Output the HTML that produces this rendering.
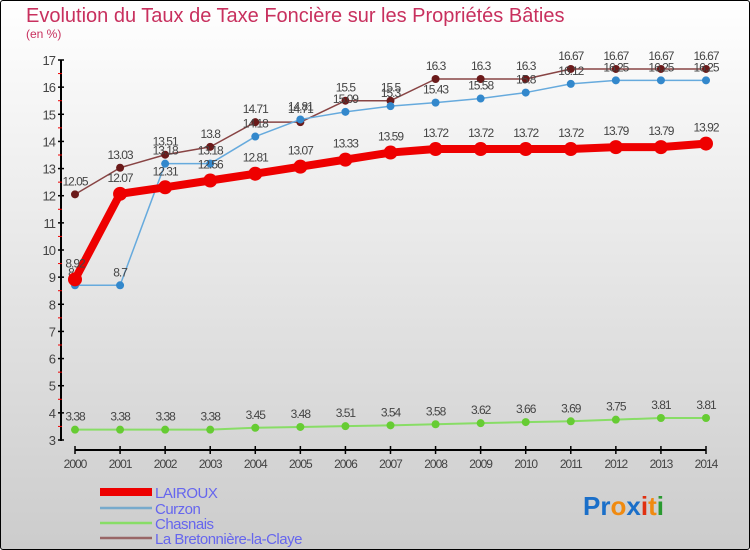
<!DOCTYPE html>
<html><head><meta charset="utf-8"><style>
html,body{margin:0;padding:0}
body{width:750px;height:550px;overflow:hidden;font-family:"Liberation Sans",sans-serif}
#wrap{position:absolute;left:0;top:0;width:748px;height:548px;border:1px solid #000;border-radius:3px;background:linear-gradient(#ffffff,#cccccc)}
svg{position:absolute;left:0;top:0}
</style></head><body>
<div id="wrap"></div>
<svg id="chart" width="750" height="550">
<text x="26" y="22" font-size="20" fill="#c8305e">Evolution du Taux de Taxe Foncière sur les Propriétés Bâties</text>
<text x="26" y="38" font-size="12" fill="#c8305e">(en %)</text>
<g id="axes"></g><g id="series"></g><g id="legend"></g>
<text x="583" y="515" font-size="26" font-weight="bold"><tspan fill="#1a6fc9">Pr</tspan><tspan fill="#f08a10">o</tspan><tspan fill="#1a6fc9">x</tspan><tspan fill="#e03010">i</tspan><tspan fill="#f08a10">t</tspan><tspan fill="#2a9a30">i</tspan></text>
</svg>
<script>
const years=[2000,2001,2002,2003,2004,2005,2006,2007,2008,2009,2010,2011,2012,2013,2014];
const yTicks=[3,4,5,6,7,8,9,10,11,12,13,14,15,16,17];
const lairoux=[8.92,12.07,12.31,12.56,12.81,13.07,13.33,13.59,13.72,13.72,13.72,13.72,13.79,13.79,13.92];
const curzon=[8.7,8.7,13.18,13.18,14.18,14.81,15.09,15.3,15.43,15.58,15.8,16.12,16.25,16.25,16.25];
const chasnais=[3.38,3.38,3.38,3.38,3.45,3.48,3.51,3.54,3.58,3.62,3.66,3.69,3.75,3.81,3.81];
const bretonniere=[12.05,13.03,13.51,13.8,14.71,14.71,15.5,15.5,16.3,16.3,16.3,16.67,16.67,16.67,16.67];
const seriesNames=["LAIROUX","Curzon","Chasnais","La Bretonnière-la-Claye"];
const NS="http://www.w3.org/2000/svg";
function xs(i){return 75+i*(706-75)/(years.length-1);}
function ys(v){return 440-(v-3)*(380/14);}
function mk(tag,attrs,parent){const e=document.createElementNS(NS,tag);for(const k in attrs)e.setAttribute(k,attrs[k]);parent.appendChild(e);return e;}
const axes=document.getElementById('axes');
let a=mk('line',{x1:61,y1:60,x2:61,y2:441,stroke:'#000','stroke-width':2},axes);


let b=mk('line',{x1:75,y1:450,x2:706,y2:450,stroke:'#000','stroke-width':2},axes);


yTicks.forEach((t,i)=>{
 const y=ys(t);
 mk('line',{x1:58,y1:y,x2:64,y2:y,stroke:'#000','stroke-width':1.5},axes);
 if(i<yTicks.length-1){mk('line',{x1:58,y1:ys(t+0.5),x2:62,y2:ys(t+0.5),stroke:'#e00','stroke-width':1},axes);}
 const tx=mk('text',{x:55,y:y+5,'text-anchor':'end','font-size':13,fill:'#444','letter-spacing':'-1'},axes);
 
 
 tx.textContent=t;
});
years.forEach((yr,i)=>{
 const x=xs(i);
 mk('line',{x1:x,y1:446,x2:x,y2:454,stroke:'#000','stroke-width':1.5},axes);
 const tx=mk('text',{x:x,y:468,'text-anchor':'middle','font-size':12,fill:'#444','letter-spacing':'-1'},axes);
 
 
 tx.textContent=yr;
});
const sg=document.getElementById('series');
function draw(vals,color,dot,width,r,name){
 const g=mk('g',{},sg);
 
 
 mk('polyline',{points:vals.map((v,i)=>xs(i)+','+ys(v)).join(' '),fill:'none',stroke:color,'stroke-width':width,'stroke-linejoin':'round'},g);
 vals.forEach((v,i)=>{
  const c=mk('circle',{cx:xs(i),cy:ys(v),r:r,fill:dot},g);
  
  
  const t=mk('text',{x:xs(i),y:ys(v)-r-5,'text-anchor':'middle','font-size':12,fill:'#444','letter-spacing':'-1'},g);
  
  
  t.textContent=v;
 });
}
draw(chasnais,'#88dd66','#66cc33',2,4,'series-chasnais');
draw(bretonniere,'#884444','#6b1a1a',1.5,4,'series-bretonniere');
draw(curzon,'#66aadd','#3388cc',1.5,4,'series-curzon');
draw(lairoux,'#ee0000','#ee0000',8,7,'series-lairoux');
const lg=document.getElementById('legend');
const lc=['#ee0000','#77aacc','#88dd66','#996666'],lw=[8,2.5,2.5,2.5],ly=[492,508,523,538];
seriesNames.forEach((n,i)=>{
 const g=mk('g',{},lg);
 
 
 mk('line',{x1:100,y1:ly[i],x2:152,y2:ly[i],stroke:lc[i],'stroke-width':lw[i]},g);
 const t=mk('text',{x:155,y:ly[i]+6,'font-size':15,fill:'#6666ee','letter-spacing':'-0.5'},g);
 t.textContent=n;
});
</script>
</body></html>
